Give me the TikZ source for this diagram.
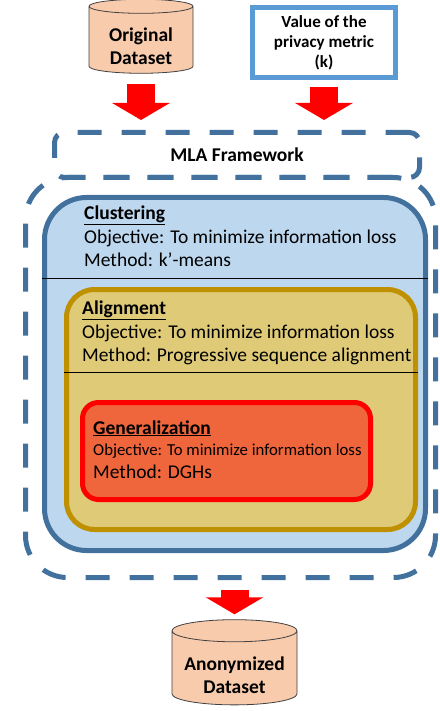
\documentclass[tikz,border=0pt]{standalone}
\usepackage{fontspec}
\setmainfont{Carlito}
\usetikzlibrary{shapes.geometric,arrows.meta}

\definecolor{peach}{HTML}{F8CBAD}
\definecolor{valblue}{HTML}{5B9BD5}
\definecolor{dashblue}{HTML}{41719C}
\definecolor{clustfill}{HTML}{BDD7EE}
\definecolor{alignfill}{HTML}{DECA77}
\definecolor{aligndraw}{HTML}{BF9000}
\definecolor{genfill}{HTML}{EF653C}

\begin{document}
\begin{tikzpicture}[x=1pt,y=-1pt,
  dataset/.style={cylinder, shape border rotate=90, aspect=0.22, draw=black!75,
    line width=0.8pt, fill=peach, align=center, inner sep=0pt,
    font=\bfseries\fontsize{19.5}{23.5}\selectfont},
  bigarrow/.style={draw=red, line width=28pt, -{Triangle[length=17pt,width=57pt]}},
  stage/.style={line width=5pt, rounded corners=#1, inner sep=0pt},
  framedash/.style={draw=dashblue, line width=5pt, dash pattern=on 24pt off 20pt},
  txt/.style={anchor=base west, inner sep=0pt, font=\fontsize{19.5}{23}\selectfont},
  head/.style={txt, font=\bfseries\fontsize{19.5}{23}\selectfont},
]
  \useasboundingbox (0,0) rectangle (439,711);

  % inputs
  \node[dataset, minimum width=104pt, minimum height=74pt] (orig) at (141,40) {\rule{0pt}{26pt}Original\\Dataset};
  \node[draw=valblue, line width=5pt, minimum width=143pt, minimum height=70pt, inner sep=0pt,
    align=center, font=\bfseries\fontsize{17}{20}\selectfont] (value) at (324,42.5)
    {Value of the\\privacy metric\\(k)};

  % framework
  \node[framedash, rounded corners=10pt, minimum width=365pt, minimum height=45pt,
    font=\bfseries\fontsize{19.5}{22}\selectfont] (mla) at (237,155) {MLA Framework};
  \node[framedash, rounded corners=42pt, minimum width=410pt, minimum height=400pt] (mlaframe) at (230.5,377.5) {};

  \node[stage=42pt, draw=dashblue, fill=clustfill, minimum width=381pt, minimum height=353pt] (clust) at (235,374) {};
  \draw[line width=0.8pt] (clust.west |- 0,278) -- (clust.east |- 0,278);
  \node[head] (clusthead) at (84,219) {\underline{Clustering}};
  \node[txt] (clustobj) at (84,243) {Objective: To minimize information loss};
  \node[txt] (clustmeth) at (84,266) {Method: k’-means};

  \node[stage=28pt, draw=aligndraw, fill=alignfill, minimum width=349pt, minimum height=240pt] (align) at (241,409.5) {};
  \draw[line width=0.8pt] (align.west |- 0,372) -- (align.east |- 0,372);
  \node[head] (alignhead) at (82,314) {\underline{Alignment}};
  \node[txt] (alignobj) at (82,338) {Objective: To minimize information loss};
  \node[txt] (alignmeth) at (82,361) {Method: Progressive sequence alignment};

  \node[stage=16pt, draw=red, fill=genfill, minimum width=288pt, minimum height=97pt] (gen) at (226.5,451) {};
  \node[head] (genhead) at (93,434) {\underline{Generalization}};
  \node[txt, font=\fontsize{16.75}{20}\selectfont] (genobj) at (93,455) {Objective: To minimize information loss};
  \node[txt] (genmeth) at (93,478) {Method: DGHs};

  % output
  \node[dataset, minimum width=125pt, minimum height=80pt] (anon) at (234.5,668) {\rule{0pt}{28pt}Anonymized\\Dataset};

  \draw[bigarrow, shorten <=10pt, shorten >=10pt] (orig.south) -- (orig.south |- mla.north);
  \draw[bigarrow, shorten <=7pt, shorten >=10pt] (value.south) -- (value.south |- mla.north);
  \draw[bigarrow, shorten <=10pt, shorten >=5pt] (anon.north |- mlaframe.south) -- (anon.north);
\end{tikzpicture}
\end{document}
